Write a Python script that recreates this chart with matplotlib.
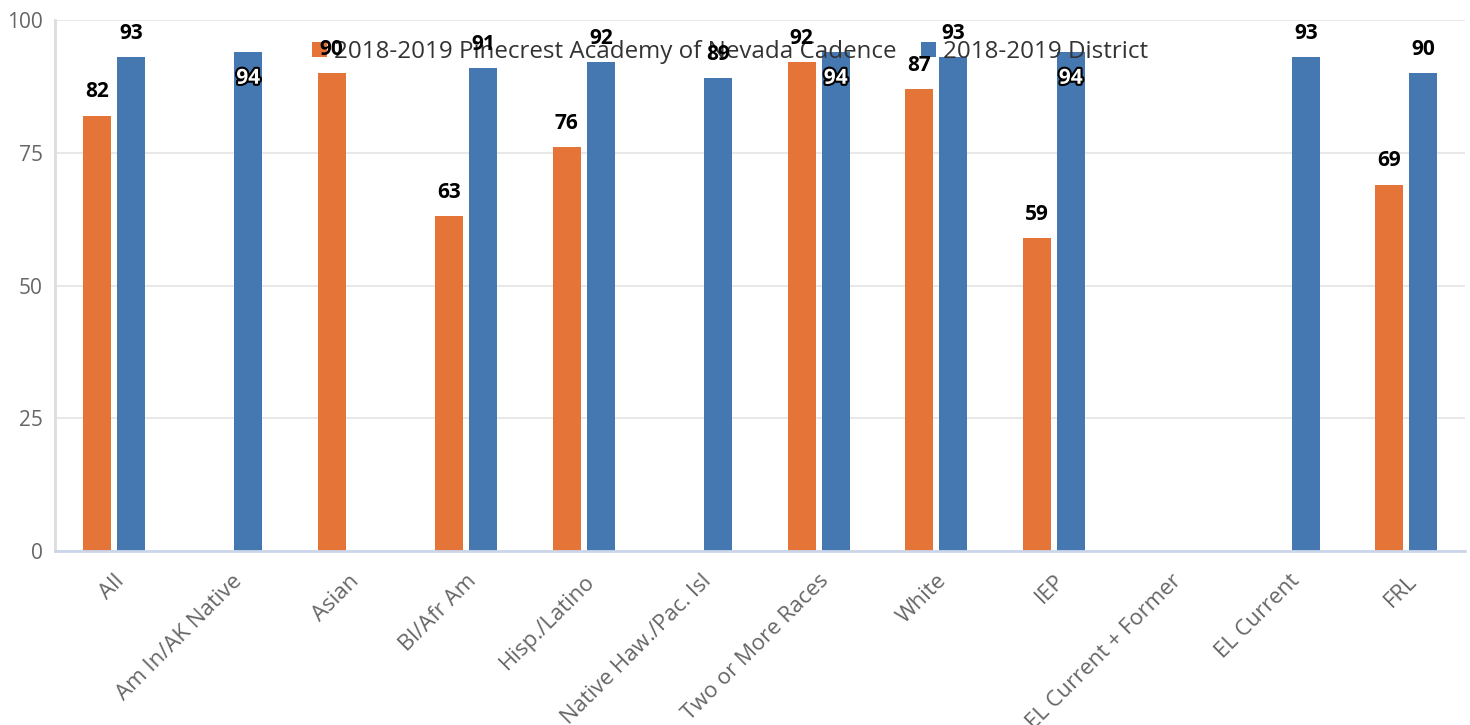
import matplotlib.pyplot as plt
import matplotlib.patheffects as pe
import numpy as np

categories = ['All', 'Am In/AK Native', 'Asian', 'Bl/Afr Am', 'Hisp./Latino',
              'Native Haw./Pac. Isl', 'Two or More Races', 'White', 'IEP',
              'EL Current + Former', 'EL Current', 'FRL']
# None = no data for that group
pinecrest = [82, None, 90, 63, 76, None, 92, 87, 59, None, None, 69]
district = [93, 94, None, 91, 92, 89, 94, 93, 94, None, 93, 90]
series_names = ['2018-2019 Pinecrest Academy of Nevada Cadence', '2018-2019 District']

orange = '#E57439'
blue = '#4577B0'

plt.rcParams['font.family'] = ['Open Sans', 'DejaVu Sans']

fig = plt.figure(figsize=(14.7, 7.25), dpi=100)
ax = fig.add_axes([55/1470, 174/725, 1410/1470, 531/725])

x = np.arange(len(categories))
w = 0.24
off = 0.145

for vals, dx, col, name in [(pinecrest, -off, orange, series_names[0]),
                            (district, off, blue, series_names[1])]:
    xs = [xi + dx for xi, v in zip(x, vals) if v is not None]
    vs = [v for v in vals if v is not None]
    ax.bar(xs, vs, width=w, color=col, label=name, zorder=2)
    for xi, v in zip(xs, vs):
        if v >= 94:
            # label does not fit above, drawn inside the bar
            ax.annotate(str(v), (xi, v), xytext=(0, -19), textcoords='offset points',
                        ha='center', va='center', fontsize=15, fontweight='bold',
                        color='white', zorder=4,
                        path_effects=[pe.withStroke(linewidth=3, foreground='black')])
        else:
            ax.annotate(str(v), (xi, v), xytext=(0, 17), textcoords='offset points',
                        ha='center', va='center', fontsize=15, fontweight='bold',
                        color='black', zorder=4)

ax.set_xlim(-0.5, len(categories) - 0.5)
ax.set_ylim(0, 100)
ax.set_yticks([0, 25, 50, 75, 100])
ax.grid(axis='y', color='#e6e6e6', linewidth=1.3, zorder=0)
ax.set_axisbelow(True)

for s in ['top', 'right']:
    ax.spines[s].set_visible(False)
ax.spines['left'].set_color('#dddddd')
ax.spines['left'].set_linewidth(2)
ax.spines['bottom'].set_color('#ccd6eb')
ax.spines['bottom'].set_linewidth(2)

ax.tick_params(axis='both', length=0, colors='#666666')
ax.tick_params(axis='y', pad=9, labelsize=15)
ax.tick_params(axis='x', pad=14, labelsize=16)
ax.set_xticks(x)
ax.set_xticklabels(categories, rotation=45, ha='right', rotation_mode='anchor')

leg = ax.legend(loc='center', bbox_to_anchor=(0.479, 0.94), ncol=2, frameon=False,
                fontsize=17.4, handlelength=0.62, handleheight=0.62, handletextpad=0.3,
                columnspacing=1.0, labelcolor='#333333')
leg.set_zorder(3)

plt.savefig('out.png', dpi=100)
